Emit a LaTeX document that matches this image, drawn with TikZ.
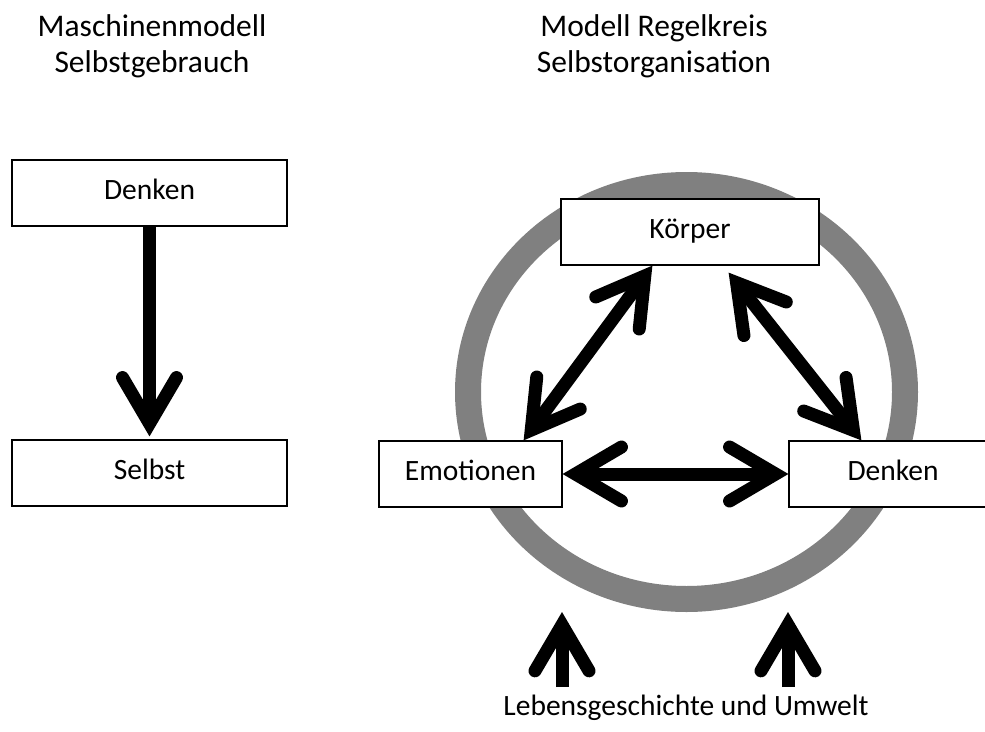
\documentclass[tikz,border=0pt]{standalone}
\usepackage{fontspec}
\setmainfont{Carlito}
\usetikzlibrary{arrows.meta}
\begin{document}
\begin{tikzpicture}[x=1pt,y=-1pt,
  box/.style={draw=black, line width=1.2pt, fill=white, minimum height=66pt, inner sep=0pt,
    text height=18pt, text depth=6pt, font=\fontsize{29.5}{35}\selectfont},
  title/.style={anchor=base, inner sep=0pt, font=\fontsize{31.5}{38}\selectfont},
  bottomlabel/.style={anchor=base, inner sep=0pt, font=\fontsize{29.5}{36}\selectfont},
  headtip/.tip={Straight Barb[length=46pt, width=54pt, line cap=round, line join=miter]},
  conn/.style={line width=13pt, black},
  ring/.style={draw=gray, line width=26pt}]
\useasboundingbox (0,0) rectangle (985,731);
\clip (0,0) rectangle (985,731);

% titles
\node[title] (t1a) at (152,36) {Maschinenmodell};
\node[title] (t1b) at (152,72) {Selbstgebrauch};
\node[title] (t2a) at (654,36) {Modell Regelkreis};
\node[title] (t2b) at (654,72) {Selbstorganisation};

% ring
\draw[ring] (686.5,392) ellipse [x radius=218.5, y radius=207];

% left model
\node[box, minimum width=275pt] (d1) at (149.5,193) {Denken};
\node[box, minimum width=275pt] (s1) at (149.5,473) {Selbst};
\draw[conn, -{headtip}] (d1.south) -- ([yshift=3pt]s1.north);

% right model
\node[box, minimum width=258pt] (k) at (690,232) {Körper};
\node[box, minimum width=183pt] (e) at (470.5,474) {Emotionen};
\node[box, minimum width=208pt] (d2) at (893,474) {Denken};

\draw[conn, {headtip}-{headtip}] (e.east) -- (d2.west);
\draw[conn, {headtip}-{headtip}] ([xshift=-39pt]e.north east) -- ([xshift=92pt]k.south west);
\draw[conn, {headtip}-{headtip}] ([xshift=-91pt,yshift=-7pt]k.south east) -- ([xshift=73pt]d2.north west);

% influences
\coordinate (f1) at (562,687);
\coordinate (h1) at (562,612);
\coordinate (f2) at (788,687);
\coordinate (h2) at (788,612);
\draw[conn, -{headtip}] (f1) -- (h1);
\draw[conn, -{headtip}] (f2) -- (h2);
\node[bottomlabel] (lu) at (686,715) {Lebensgeschichte und Umwelt};
\end{tikzpicture}
\end{document}
